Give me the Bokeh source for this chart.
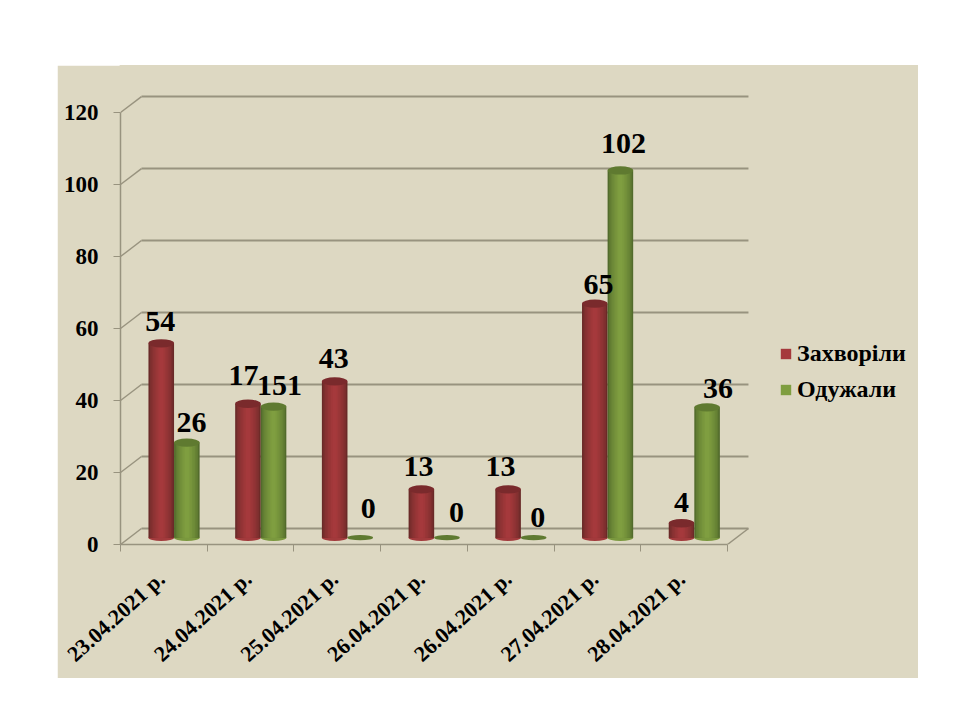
from bokeh.plotting import figure
from bokeh.embed import file_html
from bokeh.resources import INLINE
from bokeh.layouts import column, row
from bokeh.models import (ColumnDataSource, FixedTicker, Legend, LegendItem, LinearAxis,
                          Range1d, Spacer)
from bokeh.core.properties import value

dates = ["23.04.2021 р.", "24.04.2021 р.", "25.04.2021 р.", "26.04.2021 р.",
         "26.04.2021 р.", "27.04.2021 р.", "28.04.2021 р."]
series_names = ["Захворіли", "Одужали"]
# heights of the columns as drawn
sick_heights = [54, 37.2, 43.4, 13.4, 13.4, 65, 4]
recovered_heights = [26.4, 36.4, 0, 0, 0, 102, 36.2]
# numbers printed above the columns
sick_labels = ["54", "17", "43", "13", "13", "65", "4"]
recovered_labels = ["26", "151", "0", "0", "0", "102", "36"]
y_ticks = [0, 20, 40, 60, 80, 100, 120]

FONT = "Liberation Serif"
PANEL = "#ddd8c2"
LINE = "#98937f"
DEPTH_X, DEPTH_Y = 0.242, 4.44
BASE = 1.9
BAR_W = 0.295

p = figure(width=861, height=613, output_backend="svg", toolbar_location=None,
           x_range=Range1d(0, 9.203), y_range=Range1d(0, 133.06),
           min_border_left=63, min_border_right=0, min_border_top=0, min_border_bottom=134,
           background_fill_color=PANEL, border_fill_color=PANEL,
           outline_line_color=PANEL, outline_line_width=2,
           x_axis_type=None, y_axis_type=None)
p.grid.visible = False

# walls
n = len(dates)
p.segment([DEPTH_X] * len(y_ticks), [v + DEPTH_Y for v in y_ticks],
          [n + DEPTH_X] * len(y_ticks), [v + DEPTH_Y for v in y_ticks],
          line_color=LINE, line_width=2)
p.segment([0] * len(y_ticks), y_ticks, [DEPTH_X] * len(y_ticks),
          [v + DEPTH_Y for v in y_ticks], line_color=LINE, line_width=1.5)
p.segment([n], [0], [n + DEPTH_X], [DEPTH_Y], line_color=LINE, line_width=1.5)

# axes
yaxis = LinearAxis(ticker=FixedTicker(ticks=y_ticks), bounds=(0, 120))
label_ticks = [i + 0.47 for i in range(n)]
xaxis = LinearAxis(ticker=FixedTicker(ticks=label_ticks,
                                      minor_ticks=list(range(n + 1))),
                   bounds=(0, n),
                   major_label_overrides=dict(zip(label_ticks, dates)),
                   major_label_orientation=0.733)
for ax in (xaxis, yaxis):
    ax.axis_line_color = LINE
    ax.axis_line_width = 1.5
    ax.major_tick_line_color = LINE
    ax.minor_tick_line_color = LINE
    ax.major_tick_in = 0
    ax.minor_tick_in = 0
    ax.major_label_text_font = FONT
    ax.major_label_text_font_style = "bold"
    ax.major_label_text_font_size = "22px"
    ax.major_label_text_color = "#000000"
yaxis.major_label_text_font_size = "23px"
yaxis.major_tick_out = 7
yaxis.minor_tick_out = 0
yaxis.major_label_standoff = 15
xaxis.major_tick_out = 0
xaxis.minor_tick_out = 7
xaxis.major_label_standoff = 24
p.add_layout(yaxis, "left")
p.add_layout(xaxis, "below")

LAYERS = 8


def mix(a, b, t):
    ca = [int(a[i:i + 2], 16) for i in (1, 3, 5)]
    cb = [int(b[i:i + 2], 16) for i in (1, 3, 5)]
    return "#%02x%02x%02x" % tuple(round(x + (y - x) * t) for x, y in zip(ca, cb))


def cylinders(heights, offset, edge, mid, top, bottom):
    xs = [i + 0.5 + offset for i in range(n)]
    solid_x = [x for x, h in zip(xs, heights) if h > 0]
    solid_h = [h for h in heights if h > 0]
    flat_x = [x for x, h in zip(xs, heights) if h == 0]
    p.ellipse(solid_x, [BASE] * len(solid_x), width=BAR_W, height=1.8,
              fill_color=bottom, line_color=None)
    key = None
    for k in range(LAYERS):
        t = (k / (LAYERS - 1)) ** 0.6
        r = p.vbar(x=solid_x, width=BAR_W * (1 - k / LAYERS * 0.95),
                   bottom=BASE, top=[h + BASE for h in solid_h],
                   fill_color=mix(edge, mid, t), line_color=None)
        key = r
    p.ellipse(solid_x, [h + BASE for h in solid_h], width=BAR_W, height=2.3,
              fill_color=top, line_color=None)
    p.ellipse(flat_x, [BASE] * len(flat_x), width=BAR_W, height=1.5,
              fill_color=top, line_color=None)
    return xs, key


sick_x, sick_r = cylinders(sick_heights, -0.03, "#6a2a28", "#a5393c", "#7a2a2c", "#a23a3c")
rec_x, rec_r = cylinders(recovered_heights, 0.265, "#526b2c", "#7f9e40", "#5f7a30", "#7a983e")

# value labels (offsets in screen pixels from the column top)
sick_dx = [-1, -4.5, -1, -3, -7.6, 3.6, 0]
sick_dy = [-22, -28, -23, -23, -23, -19, -21]
rec_dx = [4.6, 6, 8, 9.5, 4, 3, 11]
rec_dy = [-20, -21, -29, -25, -20, -27, -19]

labels = ColumnDataSource(dict(
    x=sick_x + rec_x,
    y=[h + BASE for h in sick_heights + recovered_heights],
    t=sick_labels + recovered_labels,
    dx=sick_dx + rec_dx,
    dy=sick_dy + rec_dy,
))
p.text("x", "y", text="t", x_offset="dx", y_offset="dy", source=labels,
       text_font=value(FONT), text_font_style="bold", text_font_size="30px",
       text_align="center", text_baseline="middle", text_color="#000000")

legend = Legend(items=[LegendItem(label=series_names[0], renderers=[sick_r]),
                       LegendItem(label=series_names[1], renderers=[rec_r])],
                location=(659, 141), orientation="vertical",
                background_fill_alpha=0, border_line_color=None,
                glyph_width=13, glyph_height=13, label_text_font=FONT,
                label_text_font_style="bold", label_text_font_size="24px",
                label_text_color="#000000", spacing=9, label_standoff=5,
                padding=0, margin=0, label_height=24)
p.add_layout(legend, "center")

page = column(Spacer(height=65),
              row(Spacer(width=57), p))
open("out.html", "w").write(file_html(page, INLINE))
